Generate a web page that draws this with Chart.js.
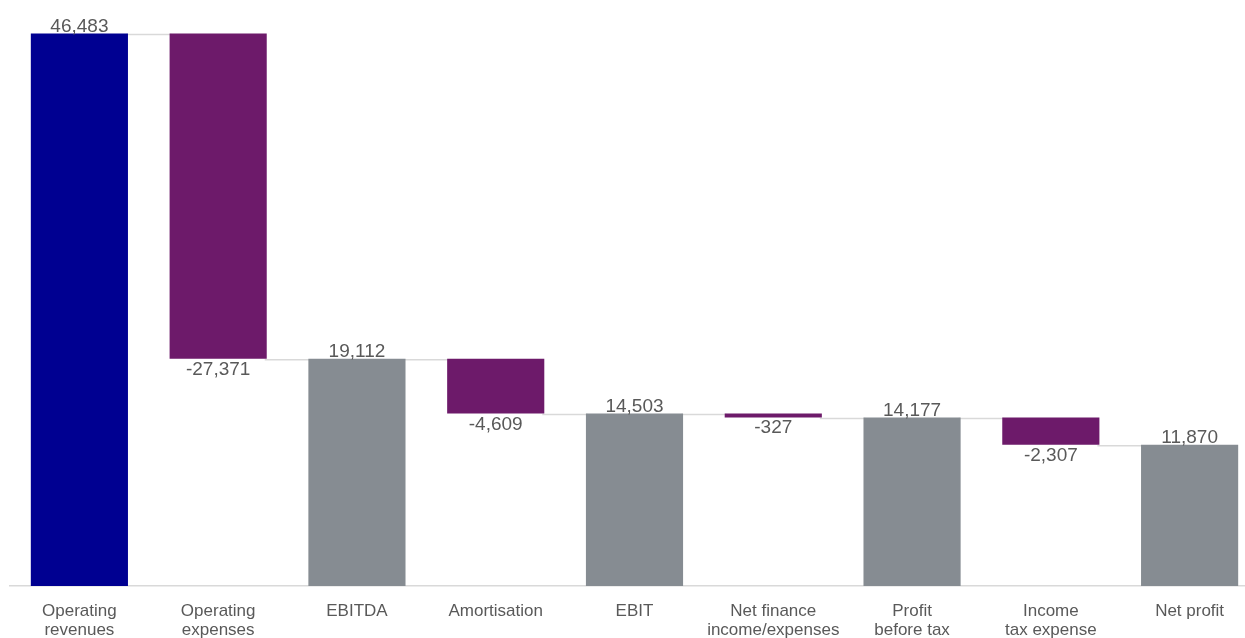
<!DOCTYPE html>
<html>
<head>
<meta charset="utf-8">
<title>Income statement waterfall</title>
<script src="https://cdn.jsdelivr.net/npm/chart.js@4/dist/chart.umd.min.js"></script>
<style>
  html, body { margin: 0; padding: 0; background: #fff; overflow: hidden; }
  #wrap { position: relative; width: 1260px; height: 660px; }
</style>
</head>
<body>
<div id="wrap"><canvas id="chart" width="1260" height="660"></canvas></div>
<script>
// P&L steps, left to right
var categories = [
  ['Operating', 'revenues'], ['Operating', 'expenses'], 'EBITDA', 'Amortisation', 'EBIT',
  ['Net finance', 'income/expenses'], ['Profit', 'before tax'], ['Income', 'tax expense'], 'Net profit'
];
var amounts = [46483, -27371, 19112, -4609, 14503, -327, 14177, -2307, 11870];
var kinds = ['start', 'change', 'total', 'change', 'total', 'change', 'total', 'change', 'total'];

var kindColors = { start: '#000091', change: '#6d1a6a', total: '#868c92' };
var textColor = '#595959';
var fontFamily = '"Liberation Sans", Arial, sans-serif';

// floating bar ranges + the level each connector line sits at
var ranges = [];
var levels = [];
var running = 0;
amounts.forEach(function(v, i) {
  if (kinds[i] === 'change') {
    ranges.push([running + v, running]);
    running += v;
  } else {
    ranges.push([0, v]);
    running = v;
  }
  levels.push(running);
});

var connectors = {
  id: 'connectors',
  beforeDatasetsDraw: function(chart) {
    var ctx = chart.ctx;
    var bars = chart.getDatasetMeta(0).data;
    var y = chart.scales.y;
    ctx.save();
    ctx.strokeStyle = '#d9d9d9';
    ctx.lineWidth = 1.5;
    for (var i = 0; i < bars.length - 1; i++) {
      var py = y.getPixelForValue(levels[i]) + 1;
      ctx.beginPath();
      ctx.moveTo(bars[i].x + bars[i].width / 2 - 2, py);
      ctx.lineTo(bars[i + 1].x - bars[i + 1].width / 2 + 2, py);
      ctx.stroke();
    }
    ctx.restore();
  }
};

var barLabels = {
  id: 'barLabels',
  afterDatasetsDraw: function(chart) {
    var ctx = chart.ctx;
    var bars = chart.getDatasetMeta(0).data;
    ctx.save();
    ctx.font = '19px ' + fontFamily;
    ctx.fillStyle = textColor;
    ctx.textAlign = 'center';
    ctx.textBaseline = 'alphabetic';
    bars.forEach(function(bar, i) {
      var text = amounts[i].toLocaleString('en-US');
      if (amounts[i] < 0) {
        ctx.fillText(text, bar.x, Math.max(bar.y, bar.base) + 16);
      } else {
        ctx.fillText(text, bar.x, Math.min(bar.y, bar.base) - 1.5);
      }
    });
    ctx.restore();
  }
};

new Chart(document.getElementById('chart'), {
  type: 'bar',
  data: {
    labels: categories,
    datasets: [{
      data: ranges,
      backgroundColor: kinds.map(function(k) { return kindColors[k]; }),
      borderWidth: 0,
      barPercentage: 0.7,
      categoryPercentage: 1
    }]
  },
  options: {
    responsive: false,
    animation: false,
    devicePixelRatio: 1,
    layout: { padding: { left: 10, right: 1, top: 0, bottom: 4 } },
    plugins: {
      legend: { display: false },
      tooltip: { enabled: false }
    },
    scales: {
      x: {
        grid: { display: false, drawTicks: false },
        border: { display: true, color: '#d9d9d9', width: 1.5 },
        ticks: {
          color: textColor,
          font: { family: fontFamily, size: 17, lineHeight: 1.12 },
          padding: 16,
          autoSkip: false,
          maxRotation: 0
        }
      },
      y: {
        display: false,
        min: 0,
        max: 49300
      }
    }
  },
  plugins: [connectors, barLabels]
});
</script>
</body>
</html>
